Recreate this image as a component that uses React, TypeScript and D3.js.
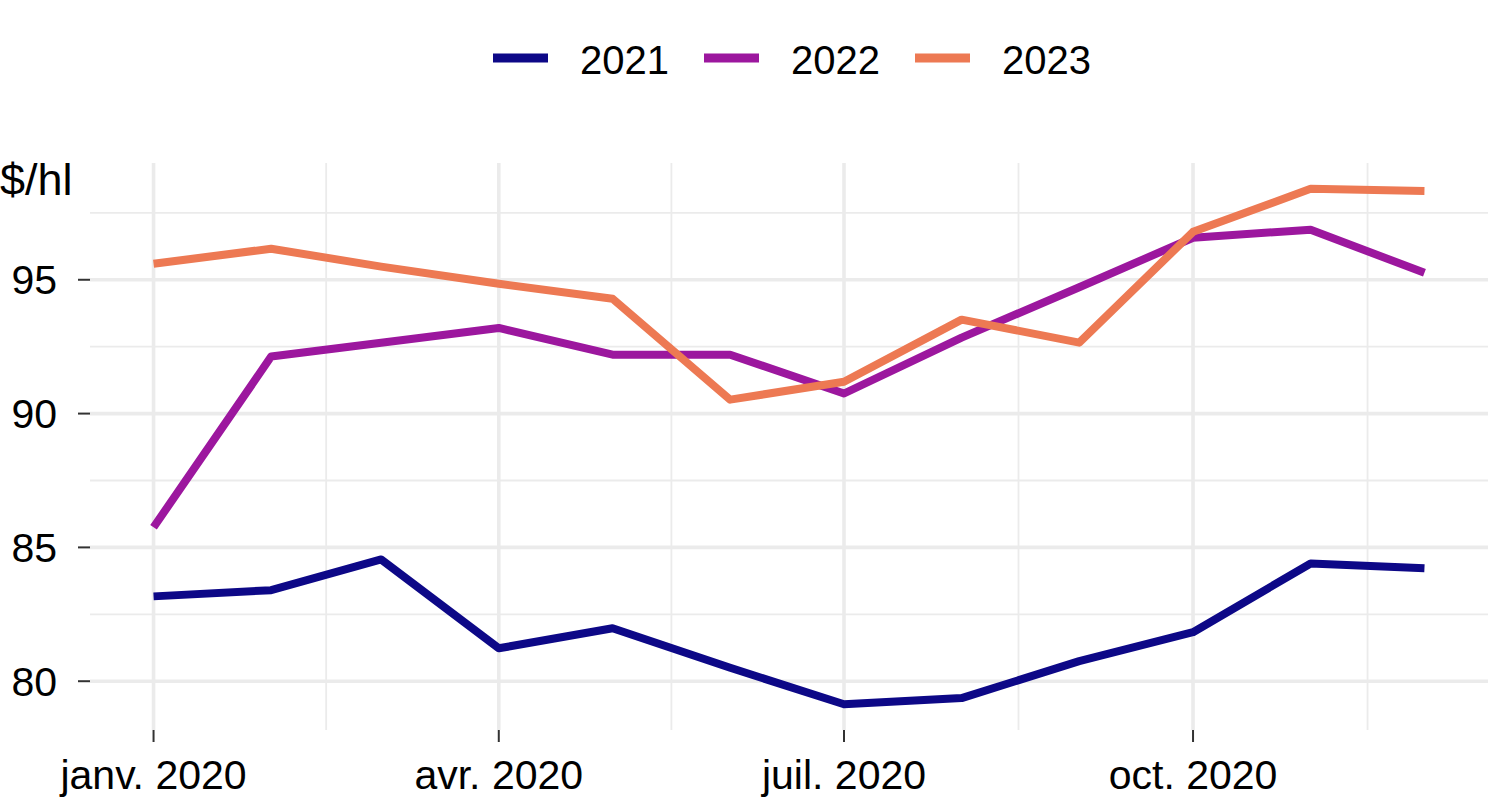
import React from "react";
import * as d3 from "d3";

const months: string[] = [
  "2020-01-01", "2020-02-01", "2020-03-01", "2020-04-01", "2020-05-01", "2020-06-01",
  "2020-07-01", "2020-08-01", "2020-09-01", "2020-10-01", "2020-11-01", "2020-12-01",
];
const seriesNames: string[] = ["2021", "2022", "2023"];
const seriesColors: string[] = ["#0D0887", "#9C179E", "#ED7953"];
const values2021: number[] = [83.17, 83.4, 84.55, 81.23, 81.98, 80.5, 79.14, 79.37, 80.75, 81.83, 84.4, 84.22];
const values2022: number[] = [85.75, 92.13, 92.65, 93.2, 92.2, 92.2, 90.75, 92.84, 94.72, 96.57, 96.87, 95.26];
const values2023: number[] = [95.6, 96.16, 95.49, 94.85, 94.29, 90.52, 91.19, 93.51, 92.65, 96.79, 98.4, 98.32];
const yTicks: number[] = [80, 85, 90, 95];
const yMinor: number[] = [82.5, 87.5, 92.5, 97.5];
const xTickDates: string[] = ["2020-01-01", "2020-04-01", "2020-07-01", "2020-10-01"];
const xTickLabels: string[] = ["janv. 2020", "avr. 2020", "juil. 2020", "oct. 2020"];
const xMinorDates: string[] = ["2020-02-15T12:00:00Z", "2020-05-16T12:00:00Z", "2020-08-16T00:00:00Z", "2020-11-16T00:00:00Z"];
const yUnit = "$/hl";

const W = 1488;
const H = 800;
const panel = { left: 90, right: 1488, top: 163, bottom: 730 };
const FONT = "'Liberation Sans', Arial, Helvetica, sans-serif";
const GRID = "#EBEBEB";
const AXIS_FS = 41;

export default function App() {
  const dates = months.map((m) => new Date(m + "T00:00:00Z"));
  const allSeries = [values2021, values2022, values2023];
  const allVals = allSeries.flat();
  const yMin = d3.min(allVals)!;
  const yMax = d3.max(allVals)!;
  const yPad = (yMax - yMin) * 0.05;
  const t0 = dates[0].getTime();
  const t1 = dates[dates.length - 1].getTime();
  const tPad = (t1 - t0) * 0.05;

  const x = d3
    .scaleUtc()
    .domain([new Date(t0 - tPad), new Date(t1 + tPad)])
    .range([panel.left, panel.right]);
  const y = d3
    .scaleLinear()
    .domain([yMin - yPad, yMax + yPad])
    .range([panel.bottom, panel.top]);

  const line = d3
    .line<number>()
    .x((_, i) => x(dates[i]))
    .y((v) => y(v));

  const legendStart = 493;
  const legendStep = 211;

  return (
    <svg width={W} height={H} style={{ display: "block", position: "absolute", left: 0, top: 0, background: "#fff" }} fontFamily={FONT}>
      <rect x={0} y={0} width={W} height={H} fill="#fff" />
      {/* minor grid */}
      {yMinor.map((v) => (
        <line key={"ym" + v} x1={panel.left} x2={panel.right} y1={y(v)} y2={y(v)} stroke={GRID} strokeWidth={1.8} />
      ))}
      {xMinorDates.map((d) => (
        <line key={"xm" + d} x1={x(new Date(d))} x2={x(new Date(d))} y1={panel.top} y2={panel.bottom} stroke={GRID} strokeWidth={1.8} />
      ))}
      {/* major grid */}
      {yTicks.map((v) => (
        <line key={"yM" + v} x1={panel.left} x2={panel.right} y1={y(v)} y2={y(v)} stroke={GRID} strokeWidth={3.6} />
      ))}
      {xTickDates.map((d) => (
        <line key={"xM" + d} x1={x(new Date(d + "T00:00:00Z"))} x2={x(new Date(d + "T00:00:00Z"))} y1={panel.top} y2={panel.bottom} stroke={GRID} strokeWidth={3.6} />
      ))}
      {/* y axis ticks & labels */}
      {yTicks.map((v) => (
        <g key={"yt" + v}>
          <line x1={panel.left - 12} x2={panel.left} y1={y(v)} y2={y(v)} stroke="#333" strokeWidth={2} />
          <text x={57} y={y(v) + 14.5} textAnchor="end" fontSize={AXIS_FS} fill="#000">
            {v}
          </text>
        </g>
      ))}
      {/* x axis ticks & labels */}
      {xTickDates.map((d, i) => {
        const xx = x(new Date(d + "T00:00:00Z"));
        return (
          <g key={"xt" + d}>
            <line x1={xx} x2={xx} y1={panel.bottom} y2={panel.bottom + 12} stroke="#333" strokeWidth={2} />
            <text x={xx} y={789} textAnchor="middle" fontSize={AXIS_FS} fill="#000">
              {xTickLabels[i]}
            </text>
          </g>
        );
      })}
      {/* unit label */}
      <text x={0} y={195} fontSize={45} fill="#000">
        {yUnit}
      </text>
      {/* lines */}
      {allSeries.map((vals, i) => (
        <path key={seriesNames[i]} d={line(vals) || ""} fill="none" stroke={seriesColors[i]} strokeWidth={8} strokeLinejoin="round" strokeLinecap="butt" />
      ))}
      {/* legend */}
      {seriesNames.map((name, i) => {
        const lx = legendStart + i * legendStep;
        return (
          <g key={"lg" + name}>
            <line x1={lx} x2={lx + 55} y1={58} y2={58} stroke={seriesColors[i]} strokeWidth={9} />
            <text x={lx + 87} y={74} fontSize={40} fill="#000">
              {name}
            </text>
          </g>
        );
      })}
    </svg>
  );
}
